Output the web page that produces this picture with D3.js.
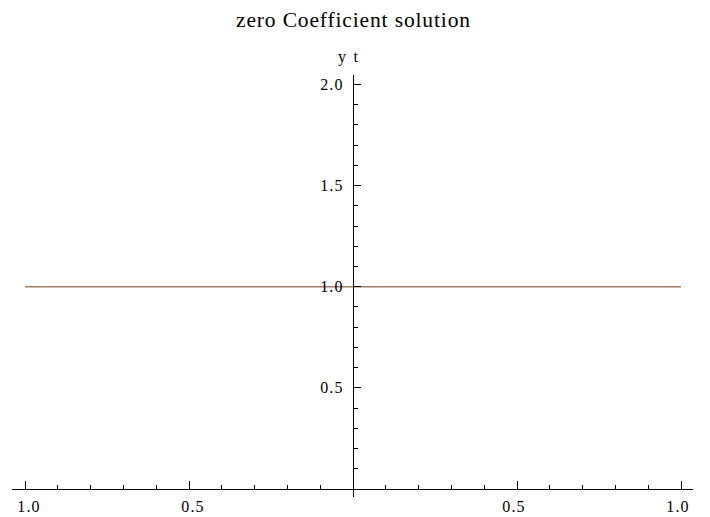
<!DOCTYPE html>
<html><head><meta charset="utf-8">
<script src="https://cdn.jsdelivr.net/npm/d3@7"></script>
<style>
body{margin:0;background:#fff;}
svg text{font-family:"Liberation Serif","Times New Roman",serif;fill:#000;}
</style></head>
<body><svg id="c" width="710" height="517"></svg>
<script>
const title = "zero Coefficient solution";
const yAxisLabel = "y t";
const xValues = [-1, 1];
const yValues = [1, 1];
const xMajorTicks = [-1, -0.5, 0.5, 1];
const xTickLabels = ["1.0", "0.5", "0.5", "1.0"];
const yMajorTicks = [0.5, 1, 1.5, 2];
const yTickLabels = ["0.5", "1.0", "1.5", "2.0"];
const xMinorTicks = [-0.9,-0.8,-0.7,-0.6,-0.4,-0.3,-0.2,-0.1,0.1,0.2,0.3,0.4,0.6,0.7,0.8,0.9];
const yMinorTicks = [0.1,0.2,0.3,0.4,0.6,0.7,0.8,0.9,1.1,1.2,1.3,1.4,1.6,1.7,1.8,1.9];

const svg = d3.select("#c");
const x = d3.scaleLinear().domain([-1, 1]).range([25, 681]);
const y = d3.scaleLinear().domain([0, 2]).range([489, 84.5]);

// line
svg.append("path")
  .datum(xValues.map((v,i)=>[v,yValues[i]]))
  .attr("d", d3.line().x(d=>x(d[0])).y(d=>y(d[1])))
  .attr("fill","none").attr("stroke","#9e7c68").attr("stroke-width",1.6);

const g = svg.append("g").attr("stroke","#000").attr("stroke-width",1).attr("shape-rendering","crispEdges");
g.append("line").attr("x1", x(-1.04)).attr("x2", x(1.037)).attr("y1", y(0)).attr("y2", y(0));
g.append("line").attr("x1", x(0)).attr("x2", x(0)).attr("y1", y(2.045)).attr("y2", y(-0.04));

g.selectAll(".xM").data(xMajorTicks).join("line")
  .attr("x1", d=>x(d)).attr("x2", d=>x(d)).attr("y1", y(0)).attr("y2", y(0)-8);
g.selectAll(".xm").data(xMinorTicks).join("line")
  .attr("x1", d=>x(d)).attr("x2", d=>x(d)).attr("y1", y(0)).attr("y2", y(0)-4.5);
g.selectAll(".yM").data(yMajorTicks).join("line")
  .attr("y1", d=>y(d)).attr("y2", d=>y(d)).attr("x1", x(0)).attr("x2", x(0)+8);
g.selectAll(".ym").data(yMinorTicks).join("line")
  .attr("y1", d=>y(d)).attr("y2", d=>y(d)).attr("x1", x(0)).attr("x2", x(0)+4.5);

svg.selectAll(".xl").data(xMajorTicks).join("text")
  .attr("x", d=>x(d) + (d<0?4:-3)).attr("y", 512)
  .attr("text-anchor","middle").attr("font-size",16).attr("letter-spacing","1.1px")
  .text((d,i)=>xTickLabels[i]);
svg.selectAll(".yl").data(yMajorTicks).join("text")
  .attr("x", x(0)-9.5).attr("y", d=>y(d)).attr("dy","0.35em")
  .attr("text-anchor","end").attr("font-size",16).attr("letter-spacing","1.1px")
  .text((d,i)=>yTickLabels[i]);

svg.append("text").attr("x", x(0)-5).attr("y", 62).attr("text-anchor","middle").attr("font-size",16)
  .attr("textLength",20).attr("lengthAdjust","spacing").text(yAxisLabel);
svg.append("text").attr("x", x(0)).attr("y", 27).attr("text-anchor","middle").attr("font-size",21.5)
  .attr("textLength",234).attr("lengthAdjust","spacing").text(title);
</script></body></html>
